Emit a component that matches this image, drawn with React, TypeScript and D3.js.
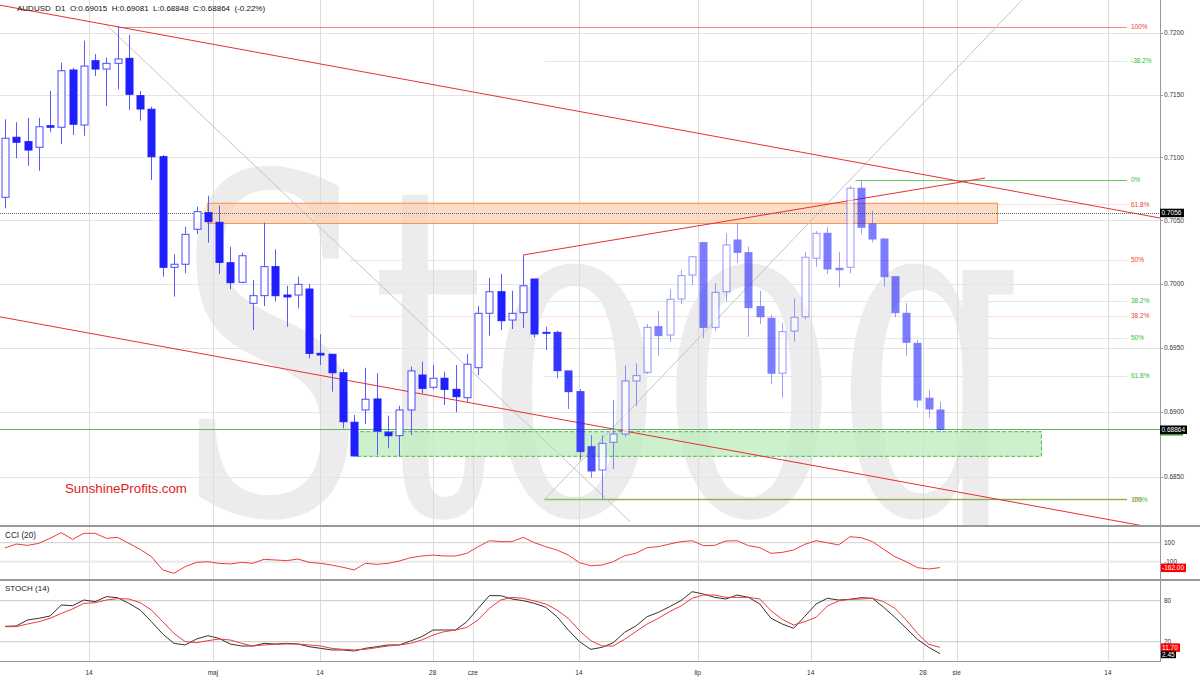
import React from 'react';
import * as d3 from 'd3';

// ---------- DATA ----------
const symbolHeader = 'AUDUSD  D1  O:0.69015  H:0.69081  L:0.68848  C:0.68864  (-0.22%)';

const open = [0.70682,0.71160,0.71125,0.71080,0.71252,0.71240,0.71699,0.71258,0.71774,0.71707,
0.71753,0.71793,0.71493,0.71384,0.71005,0.70129,0.70153,0.70429,0.70560,0.70484,
0.70165,0.70011,0.69846,0.69906,0.70134,0.69911,0.69911,0.69958,0.69455,0.69448,
0.69304,0.68920,0.69015,0.69100,0.68842,0.68816,0.69015,0.69286,0.69191,0.69261,
0.69175,0.69110,0.69343,0.69768,0.69937,0.69715,0.69773,0.70037,0.69619,0.69619,
0.69318,0.69157,0.68731,0.68552,0.68765,0.68829,0.69240,0.69307,0.69663,0.69598,
0.69880,0.70068,0.70323,0.69658,0.69937,0.70344,0.70244,0.69820,0.69729,0.69300,
0.69629,0.69741,0.70200,0.70397,0.70121,0.70129,0.70754,0.70471,0.70352,0.70055,
0.69768,0.69533,0.69106,0.69015];
const high = [0.71304,0.71280,0.71316,0.71316,0.71530,0.71758,0.71715,0.71935,0.71828,0.71798,
0.72048,0.71981,0.71530,0.71404,0.71018,0.70231,0.70449,0.70608,0.70695,0.70616,
0.70291,0.70244,0.70029,0.70481,0.70271,0.69984,0.70055,0.69998,0.69604,0.69448,
0.69333,0.68976,0.69343,0.69300,0.68971,0.69048,0.69351,0.69390,0.69364,0.69312,
0.69364,0.69450,0.69825,0.70047,0.70076,0.69945,0.70226,0.70037,0.69663,0.69632,
0.69318,0.69178,0.68821,0.68821,0.69092,0.69359,0.69377,0.69682,0.69786,0.69956,
0.70108,0.70218,0.70323,0.70003,0.70397,0.70481,0.70291,0.69945,0.69755,0.69694,
0.69885,0.70252,0.70415,0.70445,0.70252,0.70772,0.70811,0.70576,0.70357,0.70055,
0.69846,0.69559,0.69170,0.69081];
const low = [0.70595,0.70992,0.70933,0.70893,0.71200,0.71106,0.71178,0.71172,0.71651,0.71410,
0.71544,0.71378,0.71292,0.70819,0.70055,0.69898,0.70082,0.70392,0.70323,0.70076,
0.69956,0.70003,0.69637,0.69825,0.69859,0.69663,0.69807,0.69416,0.69364,0.69157,
0.68873,0.68660,0.68907,0.68667,0.68719,0.68654,0.68821,0.69144,0.69175,0.69054,
0.68997,0.69079,0.69286,0.69593,0.69637,0.69645,0.69651,0.69580,0.69481,0.69261,
0.69023,0.68629,0.68493,0.68327,0.68559,0.68808,0.69046,0.69294,0.69437,0.69546,
0.69841,0.69990,0.69572,0.69632,0.69859,0.70165,0.69585,0.69684,0.69216,0.69110,
0.69546,0.69721,0.70134,0.70076,0.69972,0.70082,0.70389,0.70326,0.69976,0.69737,
0.69437,0.69033,0.68955,0.68848];
const close = [0.71152,0.71120,0.71058,0.71244,0.71240,0.71693,0.71264,0.71731,0.71707,0.71753,
0.71788,0.71504,0.71386,0.71005,0.70129,0.70153,0.70389,0.70568,0.70489,0.70168,
0.70008,0.70220,0.69906,0.70134,0.69906,0.69896,0.69995,0.69455,0.69442,0.69304,
0.68924,0.68660,0.69098,0.68852,0.68816,0.69015,0.69318,0.69183,0.69261,0.69175,
0.69118,0.69370,0.69768,0.69937,0.69710,0.69768,0.69984,0.69606,0.69611,0.69320,
0.69157,0.68693,0.68544,0.68757,0.68829,0.69240,0.69281,0.69658,0.69593,0.69878,
0.70063,0.70212,0.69658,0.69932,0.70305,0.70247,0.69812,0.69741,0.69300,0.69624,
0.69737,0.70208,0.70397,0.70116,0.70110,0.70754,0.70445,0.70352,0.70055,0.69773,
0.69541,0.69092,0.69023,0.68864];

const cci20 = [44,86,72,93,146,206,135,199,199,146,156,93,30,-47,-187,-222,-152,-107,-100,-117,
-124,-107,-117,-75,-82,-89,-72,-107,-117,-135,-159,-187,-117,-128,-117,-93,-58,-40,-30,-40,
-40,-12,58,121,111,111,156,100,58,23,-30,-110,-142,-135,-100,-37,-12,48,58,86,
111,121,69,72,118,121,69,48,-12,-2,23,83,121,100,76,163,153,111,30,-47,
-100,-163,-177,-162];

const stochK = [42.5,43,51.8,54.2,57.6,73.7,72.7,81,78.6,85.9,84.4,76.1,66.4,49.3,31.3,17.6,15.2,23.9,28.8,24.9,
16.6,13.7,13.7,17.6,16.6,17.6,16.6,12.7,10.3,7.9,7.9,6.4,10.3,12.7,15.2,15.2,21,27.4,37.1,37.1,
37.1,49.3,68.8,87.4,87.4,82.5,80,76.1,70.3,56.6,37.1,20.1,8.8,11.8,18.6,33.7,43,56.6,63,71.3,
80,93.2,89.8,84.9,82.5,88.3,84.9,75.2,54.2,45.9,39.6,57.1,75.2,83.5,81,82,84.4,83.5,70.3,55.7,
39.6,23.5,11.8,2.45];
const stochD = [42,42,45.9,49.3,54.2,61.5,67.9,76.1,77.1,81,83,82.5,77.1,66.4,49.3,32.2,20.1,18.6,21.5,23.9,
22.5,17.6,13.7,15.2,16.2,16.6,16.6,15.2,13.7,10.3,8.8,7.9,8.8,11.3,13.7,15.2,17.6,22.5,29.8,34.7,
37.1,41,51.8,68.8,81,84.9,83.5,79.6,75.2,66.4,54.2,36.2,21.5,13.7,13.7,23.5,34.7,45.9,54.2,64,
72.2,83.5,88.3,88.3,84.9,84.9,84.9,82.5,65.4,52.7,44.4,49.3,55.7,72.2,79.6,82,82.5,83.5,78.6,68.8,
51.8,32.2,16.2,11.7];

const priceTicks = [0.72, 0.715, 0.71, 0.705, 0.70, 0.695, 0.69, 0.685];
const xTickLabels = ['14', 'maj', '14', '28', 'cze', '14', 'lip', '14', '28', 'sie', '14'];
const xTickIndex = [7.46, 18.46, 27.96, 37.97, 41.52, 50.95, 61.49, 71.52, 81.49, 84.48, 97.91];

// Fibonacci retracements
const redFibHigh = 0.72048, redFibLow = 0.68327;
const redFibLevels = [1, 0.618, 0.5, 0.382, 0];
const redFibLabels = ['100%', '61.8%', '50%', '38.2%', '0%'];
const greenFibHigh = 0.7082, greenFibLow = 0.68327;
const greenFibLevels = [-0.382, 0, 0.382, 0.5, 0.618, 1];
const greenFibLabels = ['-38.2%', '0%', '38.2%', '50%', '61.8%', '100%'];

// trend lines [index, price]
const upperChannel = [[10, 0.72048], [102.53, 0.70518]];
const lowerChannel = [[-0.44, 0.6974], [77.67, 0.68492]];
const risingLine = [[46, 0.70226], [87, 0.70835]];
const greyDown = [[9.0, 0.72062], [51.04, 0.68521]];
const greyUp = [[47.9, 0.68327], [75.0, 0.70819]];

// zones [startIndex, endIndex, lowPrice, highPrice]
const resistanceZone = [18, 88.1, 0.70475, 0.70635];
const supportZone = [31, 92, 0.68657, 0.68847];

const lastPrice = 0.68864;
const markedPrice = 0.7056;
const cciLast = '-162.00';
const stochLastD = '11.70';
const stochLastK = '2.45';

// ---------- CHART ----------
const FONT = '"Liberation Sans", Arial, Helvetica, sans-serif';

export default function App() {
  const PR = 1160;
  const x = d3.scaleLinear().domain([0, 83]).range([5, 940]);
  const y = d3.scaleLog().domain([0.685, 0.72]).range([476.7, 32.7]);
  const yc = d3.scaleLinear().domain([-100, 100]).range([561.7, 542.7]);
  const ys = d3.scaleLinear().domain([20, 80]).range([641.7, 600.7]);
  const iL = x.invert(0), iR = x.invert(PR);

  const ext = (seg: number[][], i0: number, i1: number) => {
    const ax = x(seg[0][0]), ay = y(seg[0][1]);
    const bx = x(seg[1][0]), by = y(seg[1][1]);
    const m = (by - ay) / (bx - ax);
    const x0 = x(i0), x1 = x(i1);
    return { x1: x0, y1: ay + m * (x0 - ax), x2: x1, y2: ay + m * (x1 - ax) };
  };

  const cciLine = d3.line<number>().x((_, i) => x(i)).y(v => yc(v));
  const stLine = d3.line<number>().x((_, i) => x(i)).y(v => ys(v));

  const bw = 7;
  const alpha = (i: number) => (i <= 46 ? 1 : 1 - 0.42 * Math.min(1, (i - 46) / 12));

  const fibEnd = 99.6;
  const labelX = x(fibEnd) + 4;

  const redFib = redFibLevels.map(l => redFibLow + l * (redFibHigh - redFibLow));
  const greenFib = greenFibLevels.map(l => greenFibHigh - l * (greenFibHigh - greenFibLow));
  const snap = (v: number) => Math.round(v) + 0.5;
  const redMain = (k: number) => k === 0 || k === 4;
  const greenMain = (k: number) => k === 1 || k === 5;
  const redStart = (k: number) => (k === 0 ? 10 : k === 4 ? 53 : 30.6);
  const greenStart = (k: number) => (k === 1 ? 75.5 : 47.9);

  return (
    <svg width={1200} height={681} style={{ position: 'absolute', left: 0, top: 0, background: '#fff' }}
      fontFamily={FONT}>
      <defs>
        <clipPath id="main"><rect x={0} y={0} width={PR} height={526} /></clipPath>
      </defs>
      <rect x={0} y={0} width={1200} height={681} fill="#fff" />

      <g clipPath="url(#main)">
        {/* faint fib levels (under watermark) */}
        {redFib.map((p, k) => !redMain(k) && (
          <line key={'rf' + k} x1={x(redStart(k))} x2={x(fibEnd)} y1={snap(y(p))} y2={snap(y(p))}
            stroke="#f06060" strokeOpacity={0.22} />
        ))}
        {greenFib.map((p, k) => !greenMain(k) && (
          <line key={'gf' + k} x1={x(greenStart(k))} x2={x(fibEnd)} y1={snap(y(p))} y2={snap(y(p))}
            stroke="#40c040" strokeOpacity={0.22} />
        ))}
        {/* watermark */}
        <text x={172} y={513} fontSize={468} fontFamily='"DejaVu Serif", "Liberation Serif", serif'
          fill="#ececec" textLength={850} lengthAdjust="spacingAndGlyphs">Stooq</text>
      </g>

      {/* grid */}
      {priceTicks.map(p => (
        <line key={'g' + p} x1={0} x2={PR} y1={snap(y(p))} y2={snap(y(p))} stroke="#e4e4e4" />
      ))}
      {xTickIndex.map((t, k) => (
        <line key={'v' + k} x1={snap(x(t))} x2={snap(x(t))} y1={0} y2={661} stroke="#dcdcdc" />
      ))}

      <g clipPath="url(#main)">
        {/* zones */}
        <rect x={x(resistanceZone[0])} width={x(resistanceZone[1]) - x(resistanceZone[0])}
          y={y(resistanceZone[3])} height={y(resistanceZone[2]) - y(resistanceZone[3])}
          fill="#fbd3b5" fillOpacity={0.75} stroke="#f5904a" strokeWidth={1} />
        <rect x={x(supportZone[0])} width={x(supportZone[1]) - x(supportZone[0])}
          y={y(supportZone[3])} height={y(supportZone[2]) - y(supportZone[3])}
          fill="#bfeebf" fillOpacity={0.8} stroke="#4cb84c" strokeWidth={1} strokeDasharray="4,2" />

        {/* main fib levels */}
        {redFib.map((p, k) => redMain(k) && (
          <line key={'rm' + k} x1={x(redStart(k))} x2={x(fibEnd)} y1={snap(y(p))} y2={snap(y(p))}
            stroke="#f06060" strokeOpacity={0.75} />
        ))}
        {greenFib.map((p, k) => greenMain(k) && (
          <line key={'gm' + k} x1={x(greenStart(k))} x2={x(fibEnd)} y1={snap(y(p))} y2={snap(y(p))}
            stroke={k === 5 ? '#7cb342' : '#40c040'} strokeOpacity={0.8} strokeWidth={k === 5 ? 1.5 : 1} />
        ))}

        {/* grey helper lines */}
        <line {...ext(greyDown, 8.9, 55.5)} stroke="#c4c4c4" />
        <line {...ext(greyUp, 47.9, 95)} stroke="#c4c4c4" />

        {/* red trend lines */}
        <line {...ext(upperChannel, iL, iR)} stroke="#e83030" strokeWidth={1} />
        <line {...ext(lowerChannel, iL, iR)} stroke="#e83030" strokeWidth={1} />
        <line {...ext(risingLine, 46, 87)} stroke="#e83030" strokeWidth={1} />

        {/* marked price lines */}
        <line x1={0} x2={PR} y1={snap(y(markedPrice))} y2={snap(y(markedPrice))} stroke="#666" strokeDasharray="1,1" />
        <line x1={0} x2={PR} y1={snap(y(lastPrice))} y2={snap(y(lastPrice))} stroke="#5cb85c" />

        {/* candles */}
        {open.map((o, i) => {
          const c = close[i];
          const cx = Math.round(x(i)) + 0.5;
          const up = c >= o;
          const top = y(Math.max(o, c)), bot = y(Math.min(o, c));
          const a = alpha(i);
          return (
            <g key={'c' + i} opacity={a}>
              <line x1={cx} x2={cx} y1={y(high[i])} y2={y(low[i])} stroke="#5a5aff" />
              <rect x={cx - bw / 2} y={top} width={bw} height={Math.max(1, bot - top)}
                fill={up ? '#fff' : '#1e1eff'} stroke={up ? '#4a4aff' : '#1e1eff'} strokeWidth={1} />
            </g>
          );
        })}

        <text x={65} y={493} fontSize={13.3} fill="#e02020">SunshineProfits.com</text>
      </g>

      {/* fib labels */}
      {redFib.map((p, k) => k < 4 && (
        <text key={'rl' + k} x={labelX} y={y(p) + 2.3} fontSize={6.5} fill="#f04040">{redFibLabels[k]}</text>
      ))}
      {greenFib.map((p, k) => (
        <text key={'gl' + k} x={labelX} y={y(p) + 2.3} fontSize={6.5} fill="#30c030">{greenFibLabels[k]}</text>
      ))}
      <text x={labelX + 2} y={y(redFib[4]) + 2.3} fontSize={6.5} fill="#f04040" opacity={0.7}>{redFibLabels[4]}</text>

      {/* header */}
      <text x={17} y={11} fontSize={8} fill="#111" style={{ whiteSpace: 'pre' }}>{symbolHeader}</text>

      {/* indicator panels */}
      <line x1={0} x2={PR} y1={yc(100)} y2={yc(100)} stroke="#cfcfcf" />
      <line x1={0} x2={PR} y1={yc(-100)} y2={yc(-100)} stroke="#ececec" strokeWidth={2.5} />
      <path d={cciLine(cci20) || ''} fill="none" stroke="#f03a3a" strokeWidth={1} />
      <text x={5} y={538} fontSize={8.2} fill="#222">CCI (20)</text>

      <line x1={0} x2={PR} y1={ys(80)} y2={ys(80)} stroke="#c8c8c8" />
      <line x1={0} x2={PR} y1={ys(20)} y2={ys(20)} stroke="#c8c8c8" />
      <path d={stLine(stochK) || ''} fill="none" stroke="#333" strokeWidth={1} />
      <path d={stLine(stochD) || ''} fill="none" stroke="#f03a3a" strokeWidth={1} />
      <text x={5} y={591} fontSize={8} fill="#222">STOCH (14)</text>

      {/* frames */}
      <line x1={0} x2={1200} y1={526} y2={526} stroke="#999" strokeWidth={2} />
      <line x1={0} x2={1200} y1={580} y2={580} stroke="#999" strokeWidth={2} />
      <line x1={0} x2={PR} y1={661.5} y2={661.5} stroke="#999" />
      <line x1={PR + 0.5} x2={PR + 0.5} y1={0} y2={662} stroke="#999" />

      {/* right axis */}
      {priceTicks.map(p => (
        <g key={'t' + p}>
          <line x1={PR} x2={PR + 3} y1={snap(y(p))} y2={snap(y(p))} stroke="#999" />
          <text x={PR + 4} y={y(p) + 2.3} fontSize={6.5} fill="#333">{p.toFixed(4)}</text>
        </g>
      ))}
      <text x={PR + 4} y={yc(100) + 2.3} fontSize={6.5} fill="#333">100</text>
      <text x={PR + 4} y={yc(-100) + 2.3} fontSize={6.5} fill="#333">-100</text>
      <text x={PR + 4} y={ys(80) + 2.3} fontSize={6.5} fill="#333">80</text>
      <text x={PR + 4} y={ys(20) + 2.3} fontSize={6.5} fill="#333">20</text>

      <rect x={PR} y={y(markedPrice) - 4} width={24} height={8.5} fill="#000" />
      <text x={PR + 1.5} y={y(markedPrice) + 2.5} fontSize={6.5} fill="#fff">{markedPrice.toFixed(4)}</text>
      <rect x={PR} y={y(lastPrice) - 4} width={27} height={8.5} fill="#000" />
      <rect x={PR} y={y(lastPrice) + 4.5} width={23} height={1.5} fill="#2a9a2a" />
      <text x={PR + 1.5} y={y(lastPrice) + 2.5} fontSize={6.5} fill="#fff">{lastPrice.toFixed(5)}</text>

      <rect x={PR + 1} y={yc(cci20[83]) - 4} width={25} height={8.5} fill="#f00" />
      <text x={PR + 2} y={yc(cci20[83]) + 2.5} fontSize={6.5} fill="#fff">{cciLast}</text>
      <rect x={PR + 1} y={ys(stochD[83]) - 4} width={19} height={8.5} fill="#f00" />
      <text x={PR + 2} y={ys(stochD[83]) + 2.5} fontSize={6.5} fill="#fff">{stochLastD}</text>
      <rect x={PR + 1} y={ys(stochK[83]) - 2.5} width={15} height={7} fill="#000" />
      <text x={PR + 2} y={ys(stochK[83]) + 3} fontSize={6.5} fill="#fff">{stochLastK}</text>

      {/* x axis labels */}
      {xTickIndex.map((t, k) => (
        <text key={'xl' + k} x={x(t)} y={675} fontSize={6.5} fill="#333" textAnchor="middle">{xTickLabels[k]}</text>
      ))}
    </svg>
  );
}
